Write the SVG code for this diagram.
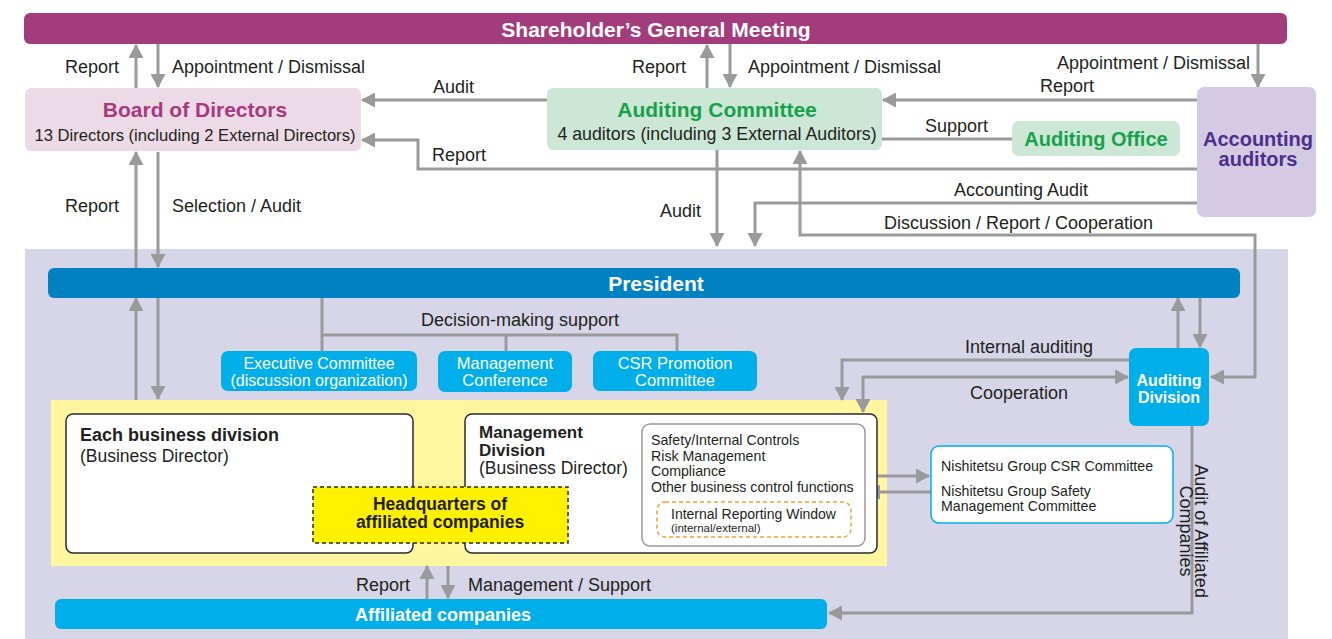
<svg xmlns="http://www.w3.org/2000/svg" width="1332" height="639" viewBox="0 0 1332 639">
<style>
text{font-family:"Liberation Sans",Arial,sans-serif;fill:#231f20}
.lbl{font-size:18px}
.ln{fill:none;stroke:#9a9a9c;stroke-width:3}
.a{marker-end:url(#ah)}
.aa{marker-end:url(#ah);marker-start:url(#ahs)}
.w{fill:#fff}
.b{font-weight:bold}
.m{text-anchor:middle}
.e{text-anchor:end}
.lb{fill:#00aeea}
</style>
<defs>
<marker id="ah" markerUnits="userSpaceOnUse" markerWidth="14" markerHeight="15" refX="13" refY="7.5" orient="auto"><path d="M0,0 L14,7.5 L0,15 z" fill="#9a9a9c"/></marker>
<marker id="ahs" markerUnits="userSpaceOnUse" markerWidth="14" markerHeight="15" refX="13" refY="7.5" orient="auto-start-reverse"><path d="M0,0 L14,7.5 L0,15 z" fill="#9a9a9c"/></marker>
</defs>
<rect x="0" y="0" width="1332" height="639" fill="#fff"/>
<rect x="25" y="249" width="1263" height="390" fill="#d6d6e8"/>
<rect x="51" y="400" width="836" height="166" fill="#fff69f"/>

<g id="connectors">
<path class="ln a" d="M136,88 V45"/>
<path class="ln a" d="M158,44 V87"/>
<path class="ln a" d="M707,88 V45"/>
<path class="ln a" d="M730,44 V87"/>
<path class="ln a" d="M1258,44 V87"/>
<path class="ln a" d="M547,100 H362"/>
<path class="ln a" d="M1197,100 H883"/>
<path class="ln a" d="M1197,169 H418 V140 H362"/>
<path class="ln" d="M1012,139 H882"/>
<path class="ln a" d="M136,268 V152"/>
<path class="ln a" d="M158,152 V267"/>
<path class="ln a" d="M136,400 V298"/>
<path class="ln a" d="M158,298 V399"/>
<path class="ln a" d="M717,150 V246"/>
<path class="ln a" d="M1197,203 H755 V246"/>
<path class="ln aa" d="M800,151 V235 H1255 V377 H1211"/>
<path class="ln a" d="M1178,348 V298"/>
<path class="ln a" d="M1200,298 V347"/>
<path class="ln a" d="M1129,360 H842 V400"/>
<path class="ln aa" d="M863,412 V377 H1128"/>
<path class="ln" d="M322,298 V351 M322,335 H677 V351 M506,335 V351"/>
<path class="ln a" d="M865,476 H929"/>
<path class="ln a" d="M931,492 H867"/>
<path class="ln a" d="M1192,426 V613 H829"/>
<path class="ln a" d="M427,599 V566"/>
<path class="ln a" d="M448,566 V598"/>
</g>

<g id="labels">
<text class="lbl e" x="119" y="73">Report</text>
<text class="lbl" x="172" y="73">Appointment / Dismissal</text>
<text class="lbl" x="433" y="93">Audit</text>
<text class="lbl e" x="686" y="73">Report</text>
<text class="lbl" x="748" y="73">Appointment / Dismissal</text>
<text class="lbl e" x="1250" y="69">Appointment / Dismissal</text>
<text class="lbl" x="1040" y="92">Report</text>
<text class="lbl" x="925" y="132">Support</text>
<text class="lbl" x="432" y="161">Report</text>
<text class="lbl" x="954" y="196">Accounting Audit</text>
<text class="lbl" x="884" y="229">Discussion / Report / Cooperation</text>
<text class="lbl" x="660" y="217">Audit</text>
<text class="lbl e" x="119" y="212">Report</text>
<text class="lbl" x="172" y="212">Selection / Audit</text>
<text class="lbl m" x="520" y="326">Decision-making support</text>
<text class="lbl" x="965" y="353">Internal auditing</text>
<text class="lbl" x="970" y="399">Cooperation</text>
<text class="lbl e" x="410" y="591">Report</text>
<text class="lbl" x="468" y="591">Management / Support</text>
<g transform="translate(1195,531) rotate(90)"><text class="lbl m" x="0" y="0">Audit of Affiliated</text><text class="lbl m" x="0" y="15">Companies</text></g>
</g>

<g id="sgm">
<rect x="24" y="13" width="1263" height="31" rx="6" fill="#a23c7d"/>
<text class="w b m" x="656" y="37" font-size="21">Shareholder’s General Meeting</text>
</g>
<g id="board">
<rect x="25" y="88" width="336" height="63" rx="6" fill="#ecdbe6"/>
<text class="b m" x="195" y="117" font-size="21" style="fill:#a8397f">Board of Directors</text>
<text class="m" x="195" y="141" font-size="16.6">13 Directors (including 2 External Directors)</text>
</g>
<g id="auditing-committee">
<rect x="547" y="88" width="335" height="62" rx="6" fill="#cde7d7"/>
<text class="b m" x="717" y="117" font-size="21" style="fill:#16a14a">Auditing Committee</text>
<text class="m" x="717" y="140" font-size="17.8">4 auditors (including 3 External Auditors)</text>
</g>
<g id="auditing-office">
<rect x="1012" y="121" width="168" height="35" rx="7" fill="#cde7d7"/>
<text class="b m" x="1096" y="146" font-size="20" style="fill:#16a14a">Auditing Office</text>
</g>
<g id="accounting-auditors">
<rect x="1197" y="87" width="119" height="130" rx="7" fill="#d4cae3"/>
<text class="b m" x="1258" y="146" font-size="20" style="fill:#4a2f8f">Accounting</text>
<text class="b m" x="1258" y="166" font-size="20" style="fill:#4a2f8f">auditors</text>
</g>
<g id="president">
<rect x="48" y="268" width="1192" height="30" rx="6" fill="#0081c1"/>
<text class="w b m" x="656" y="291" font-size="21">President</text>
</g>
<g id="executive-committee">
<rect x="221" y="351" width="196" height="40" rx="7" class="lb"/>
<text class="w m" x="319" y="369" font-size="16">Executive Committee</text>
<text class="w m" x="319" y="386" font-size="16">(discussion organization)</text>
</g>
<g id="management-conference">
<rect x="438" y="351" width="134" height="41" rx="7" class="lb"/>
<text class="w m" x="505" y="369" font-size="16.5">Management</text>
<text class="w m" x="505" y="386" font-size="16.5">Conference</text>
</g>
<g id="csr-promotion">
<rect x="593" y="351" width="164" height="40" rx="7" class="lb"/>
<text class="w m" x="675" y="369" font-size="16.5">CSR Promotion</text>
<text class="w m" x="675" y="386" font-size="16.5">Committee</text>
</g>
<g id="auditing-division">
<rect x="1129" y="348" width="80" height="78" rx="7" class="lb"/>
<text class="w b m" x="1169" y="386" font-size="16">Auditing</text>
<text class="w b m" x="1169" y="403" font-size="16">Division</text>
</g>
<g id="each-business-division">
<rect x="66" y="414" width="347" height="139" rx="7" fill="#fff" stroke="#2b2b2b" stroke-width="1.5"/>
<text class="b" x="80" y="441" font-size="18">Each business division</text>
<text x="80" y="462" font-size="17.5">(Business Director)</text>
</g>
<g id="management-division">
<rect x="465" y="414" width="412" height="139" rx="7" fill="#fff" stroke="#2b2b2b" stroke-width="1.5"/>
<text class="b" x="479" y="438" font-size="17">Management</text>
<text class="b" x="479" y="456" font-size="17">Division</text>
<text x="479" y="474" font-size="17.5">(Business Director)</text>
</g>
<g id="control-functions">
<rect x="642" y="424" width="223" height="122" rx="8" fill="#fff" stroke="#9a9a9c" stroke-width="1.5"/>
<text x="651" y="445" font-size="14.2">Safety/Internal Controls</text>
<text x="651" y="461" font-size="14.2">Risk Management</text>
<text x="651" y="476" font-size="14.2">Compliance</text>
<text x="651" y="492" font-size="14.2">Other business control functions</text>
</g>
<g id="internal-reporting-window">
<rect x="657" y="502" width="194" height="35" rx="8" fill="#fff" stroke="#f5a030" stroke-width="1.5" stroke-dasharray="4,3"/>
<text x="671" y="519" font-size="14">Internal Reporting Window</text>
<text x="671" y="532" font-size="11.5">(internal/external)</text>
</g>
<g id="headquarters">
<rect x="313" y="487" width="255" height="56" fill="#fff100" stroke="#2b2b2b" stroke-width="1.5" stroke-dasharray="4,3"/>
<text class="b m" x="440" y="510" font-size="17.5">Headquarters of</text>
<text class="b m" x="440" y="528" font-size="17.5">affiliated companies</text>
</g>
<g id="nishitetsu">
<rect x="931" y="446" width="242" height="77" rx="8" fill="#fff" stroke="#00aeea" stroke-width="1.5"/>
<text x="941" y="471" font-size="14.2">Nishitetsu Group CSR Committee</text>
<text x="941" y="496" font-size="14.2">Nishitetsu Group Safety</text>
<text x="941" y="511" font-size="14.2">Management Committee</text>
</g>
<g id="affiliated">
<rect x="55" y="599" width="772" height="30" rx="6" class="lb"/>
<text class="w b m" x="443" y="621" font-size="18">Affiliated companies</text>
</g>
</svg>
